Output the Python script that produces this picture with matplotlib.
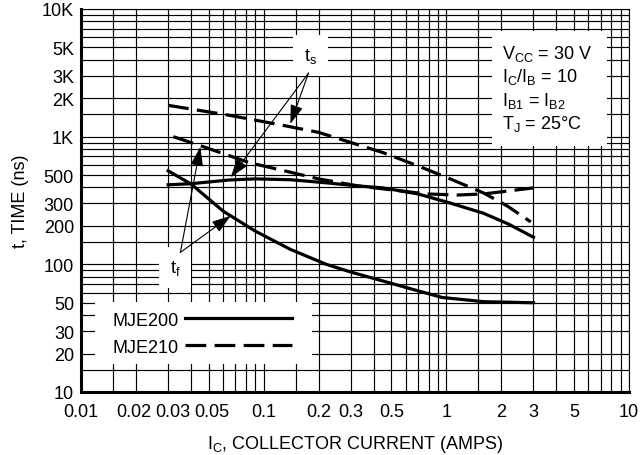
import numpy as np
import matplotlib
matplotlib.use('Agg')
import matplotlib.pyplot as plt
from matplotlib.lines import Line2D
from matplotlib.patches import Rectangle
from matplotlib.ticker import NullFormatter
from matplotlib.transforms import ScaledTranslation

plt.rcParams['font.family'] = ['Liberation Sans', 'DejaVu Sans']
plt.rcParams['mathtext.default'] = 'regular'
plt.rcParams['font.size'] = 13

# switching times (Ic in A, t in ns)
ts_200_ic = [0.03, 0.04, 0.065, 0.09, 0.14, 0.22, 0.33, 0.45, 0.7, 1.05, 1.6, 2.2, 3.0]
ts_200_t = [420, 428, 458, 467, 460, 435, 411, 397, 356, 302, 251, 206, 163]

tf_200_ic = [0.03, 0.04, 0.06, 0.09, 0.14, 0.22, 0.3, 0.45, 0.7, 0.95, 1.6, 3.0]
tf_200_t = [540, 426, 261, 182, 131, 100, 87, 74, 62, 55, 51, 50]

ts_210_ic = [0.03, 0.065, 0.13, 0.2, 0.45, 0.7, 1.05, 1.6, 2.15, 2.9]
ts_210_t = [1760, 1470, 1220, 1080, 750, 590, 467, 362, 287, 215]

tf_210_ic = [0.032, 0.045, 0.084, 0.13, 0.2, 0.33, 0.78, 1.15, 1.6, 2.2, 3.0]
tf_210_t = [1000, 850, 624, 540, 467, 411, 356, 349, 356, 376, 397]

x_ticks = [0.01, 0.02, 0.03, 0.05, 0.1, 0.2, 0.3, 0.5, 1, 2, 3, 5, 10]
x_labels = ['0.01', '0.02', '0.03', '0.05', '0.1', '0.2', '0.3', '0.5', '1', '2', '3', '5', '10']
y_ticks = [10, 20, 30, 50, 100, 200, 300, 500, 1000, 2000, 3000, 5000, 10000]
y_labels = ['10', '20', '30', '50', '100', '200', '300', '500', '1K', '2K', '3K', '5K', '10K']
grid_steps = [1.5, 4, 6, 7, 8, 9]

cond_lines = [r'$V_{CC}$ = 30 V', r'$I_C/I_B$ = 10', r'$I_{B1}$ = $I_{B2}$', r'$T_J$ = 25°C']

fig = plt.figure(figsize=(6.4, 4.56), dpi=100)
ax = fig.add_axes([81 / 640, 1 - 393 / 456, 548 / 640, 383 / 456])
ax.set_xscale('log')
ax.set_yscale('log')
ax.set_xlim(0.01, 10)
ax.set_ylim(10, 10000)

dash = (0, (6.5, 2.6))
lw = 2.3
ax.plot(ts_200_ic, ts_200_t, color='k', lw=lw, solid_joinstyle='round', zorder=4)
ax.plot(tf_200_ic, tf_200_t, color='k', lw=lw, solid_joinstyle='round', zorder=4)
ax.plot(ts_210_ic, ts_210_t, color='k', lw=lw, linestyle=dash, zorder=4)
ax.plot(tf_210_ic, tf_210_t, color='k', lw=lw, linestyle=dash, zorder=4)

# grid: labelled lines as major ticks, the rest as minor
ax.set_xticks(x_ticks, x_labels)
ax.set_xticks([d * m for d in (0.01, 0.1, 1) for m in grid_steps], minor=True)
ax.set_yticks(y_ticks, y_labels)
ax.set_yticks([d * m for d in (10, 100, 1000) for m in grid_steps], minor=True)
ax.xaxis.set_minor_formatter(NullFormatter())
ax.yaxis.set_minor_formatter(NullFormatter())
ax.tick_params(which='both', length=0)
ax.tick_params(axis='x', pad=8)
ax.tick_params(axis='y', pad=5)
ax.grid(which='both', color='k', lw=0.85)

# the crowded 0.02 / 0.03 labels sit a little apart on the original
nudge = {'0.02': -2, '0.03': 5, '0.05': 3}
for lab in ax.get_xticklabels():
    if lab.get_text() in nudge:
        dx = nudge[lab.get_text()]
        lab.set_transform(lab.get_transform() + ScaledTranslation(dx / 100, 0, fig.dpi_scale_trans))

for s in ['left', 'bottom']:
    ax.spines[s].set_linewidth(2.2)
for s in ['top', 'right']:
    ax.spines[s].set_linewidth(0.8)

ax.set_xlabel(r'$I_C$, COLLECTOR CURRENT (AMPS)', labelpad=9)
ax.set_ylabel('t, TIME (ns)', labelpad=9)

# conditions box
ax.add_patch(Rectangle((0.75, 0.642), 0.21, 0.30, transform=ax.transAxes,
                       fc='white', ec='none', zorder=3))
for i, line in enumerate(cond_lines):
    ax.text(0.768, 0.886 - i * 0.0615, line, transform=ax.transAxes,
            ha='left', va='center', zorder=3.5)

# t_s / t_f callouts
box = dict(boxstyle='square,pad=0.6', fc='white', ec='none')
ax.text(0.181, 4300, r'$t_s$', ha='center', va='center', bbox=box, zorder=3)
ax.text(0.0328, 95, r'$t_f$', ha='center', va='center', bbox=box, zorder=3)

arrow = dict(arrowstyle='-|>,head_length=0.9,head_width=0.3', color='k', lw=0.8,
             shrinkA=0, shrinkB=0, mutation_scale=13)
for target in [(0.14, 1260), (0.066, 480)]:
    ax.annotate('', xy=target, xytext=(0.176, 3150), arrowprops=arrow, zorder=5)
for target in [(0.045, 830), (0.066, 240)]:
    ax.annotate('', xy=target, xytext=(0.035, 124), arrowprops=arrow, zorder=5)

# legend: white patch behind, entries with the line after the name
ax.add_patch(Rectangle((0.0255, 0.073), 0.396, 0.162, transform=ax.transAxes,
                       fc='white', ec='none', zorder=3))
h1 = Line2D([], [], color='k', lw=lw)
h2 = Line2D([], [], color='k', lw=lw, linestyle=dash)
leg = ax.legend([h1, h2], ['MJE200', 'MJE210'], loc='center left',
                bbox_to_anchor=(0.058, 0.152), borderaxespad=0, borderpad=0,
                markerfirst=False, handlelength=5.9, handletextpad=0.33,
                labelspacing=0.55, frameon=False)
leg.set_zorder(5)

fig.savefig('out.png', dpi=100)
